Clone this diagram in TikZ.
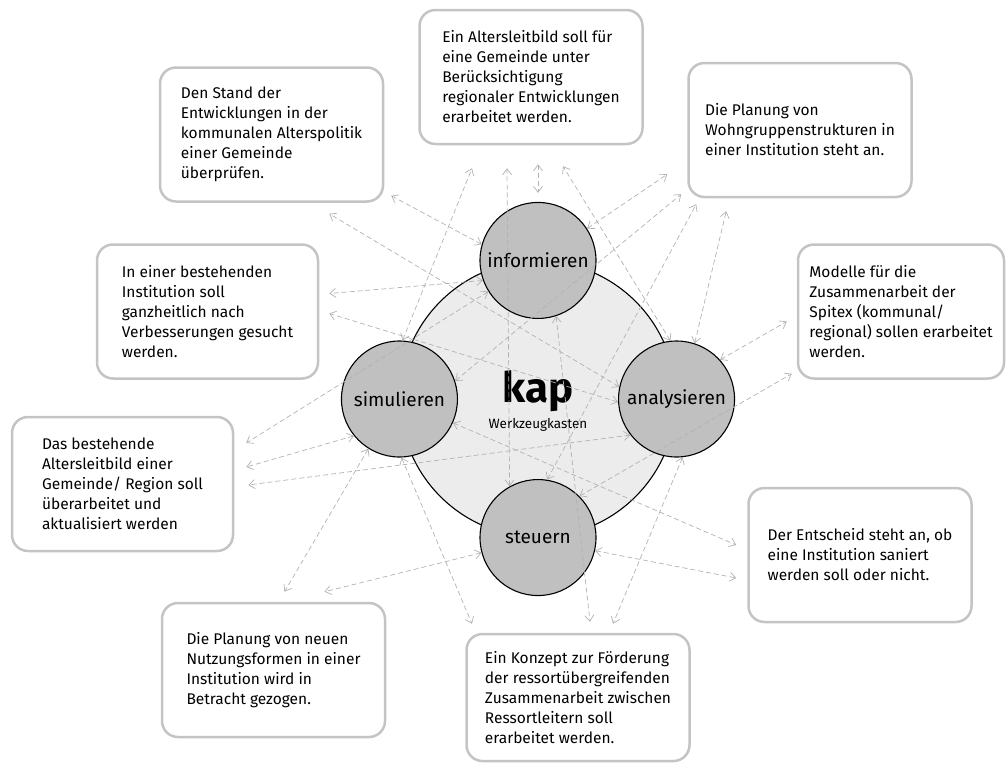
\documentclass[tikz,border=0pt]{standalone}
\usepackage{fontspec}
\setmainfont{Fira Sans}
\usepackage{xcolor}
\definecolor{kapring}{RGB}{236,236,236}
\definecolor{kaptool}{RGB}{192,192,192}
\definecolor{kapframe}{RGB}{196,196,196}
\definecolor{kaplink}{RGB}{178,178,178}
\usepackage{tikz}
\usetikzlibrary{arrows.meta, positioning, calc}

\tikzset{
  task/.style={draw=kapframe, line width=2.5pt, fill=white, rounded corners=16pt,
    minimum width=223pt, minimum height=134pt, align=left,
    font=\fontsize{15.5}{20}\selectfont},
  tool/.style={circle, draw=black, line width=1.1pt, fill=kaptool,
    minimum size=116pt, inner sep=0pt, font=\fontsize{19}{22}\selectfont},
  link/.style={draw=kaplink, line width=0.7pt, dash pattern=on 5pt off 3pt,
    >={Straight Barb[length=6pt,width=9pt]}, <->},
}

\begin{document}
\begin{tikzpicture}[x=1pt, y=-1pt]
  \useasboundingbox (0,0) rectangle (1007,763);

  % Central ring with the four tools
  \node[circle, draw=black, line width=1.1pt, fill=kapring, minimum size=276pt,
        inner sep=0pt] (kreis) at (538,399) {};
  \node[tool] (inf) at (kreis.north) {informieren};
  \node[tool] (sim) at (kreis.west) {simulieren};
  \node[tool] (ana) at (kreis.east) {analysieren};
  \node[tool] (ste) at (kreis.south) {steuern};

  % Logo
  \node[font=\fontsize{42}{42}\selectfont\bfseries] (kap) at (538,391) {kap};
  \node[font=\fontsize{13.5}{15}\selectfont] (werkzeug) at (538,425) {Werkzeugkasten};

  % Situations
  \node[task] (leitbild) at (531,77) {Ein Altersleitbild soll für\\eine Gemeinde unter\\Berücksichtigung\\regionaler Entwicklungen\\erarbeitet werden.};
  \node[task] (stand) at (271.5,134.5) {Den Stand der\\Entwicklungen in der\\kommunalen Alterspolitik\\einer Gemeinde\\überprüfen.};
  \node[task] (wohn) at (800,130) {Die Planung von\\Wohngruppenstrukturen in\\einer Institution steht an.};
  \node[task, minimum width=206pt] (spitex) at (901,311.5) {Modelle für die\\Zusammenarbeit der\\Spitex (kommunal/\\regional) sollen erarbeitet\\werden.};
  \node[task, minimum width=221pt] (institution) at (207.5,311.5) {In einer bestehenden\\Institution soll\\ganzheitlich nach\\Verbesserungen gesucht\\werden.};
  \node[task, minimum width=221pt] (bestehend) at (122.5,484) {Das bestehende\\Altersleitbild einer\\Gemeinde/ Region soll\\überarbeitet und\\aktualisiert werden};
  \node[task] (entscheid) at (860,555) {Der Entscheid steht an, ob\\eine Institution saniert\\werden soll oder nicht.};
  \node[task] (nutzung) at (273.5,670) {Die Planung von neuen\\Nutzungsformen in einer\\Institution wird in\\Betracht gezogen.};
  \node[task, minimum height=127pt] (konzept) at (578,697.5) {Ein Konzept zur Förderung\\der ressortübergreifenden\\Zusammenarbeit zwischen\\Ressortleitern soll\\erarbeitet werden.};

  % Connections to the top boxes
  \draw[link] (sim.87) -- ($(leitbild.south)+(-59,23)$);
  \draw[link] (ste.119) -- ($(leitbild.south)+(-24,23)$);
  \draw[link, shorten <=19pt, shorten >=9pt] (leitbild.south -| inf) -- (inf.north);
  \draw[link] (ana.96) -- ($(leitbild.south)+(32,21)$);
  \draw[link] (inf.164) -- ($(stand.south east)+(7,-7)$);
  \draw[link] (ana.168) -- ($(stand.south east)+(-55,11)$);
  \draw[link] (inf.33) -- ($(wohn.south west)+(-20,-24)$);
  \draw[link] (sim.18) -- ($(wohn.south west)+(-6,-4)$);
  \draw[link] (ste.81) -- ($(wohn.south west)+(9,6)$);
  \draw[link] (ana.72) -- ($(wohn.south west)+(39,13)$);

  % Connections to the side boxes
  \draw[link] (inf.200) -- ($(institution.east)+(10,-18)$);
  \draw[link] (ana.183) -- ($(institution.east)+(10,2)$);
  \draw[link] (inf.212) -- ($(bestehend.east)+(12,-41)$);
  \draw[link] (sim.219) -- ($(bestehend.east)+(12,-17)$);
  \draw[link] (ana.218) -- ($(bestehend.east)+(14,1)$);
  \draw[link] (ana.42) -- ($(spitex.west)+(-10,10)$);
  \draw[link] (ste.45) -- ($(spitex.south west)+(-5,-6)$);

  % Connections to the bottom boxes
  \draw[link] (sim.238) -- ($(nutzung.north)+(11,-10)$);
  \draw[link] (ste.195) -- ($(nutzung.north)+(51,-10)$);
  \draw[link] (sim.272) -- ($(konzept.north)+(-106,-9)$);
  \draw[link] (inf.-72) -- ($(konzept.north)+(12,-11)$);
  \draw[link] (ana.-84) -- ($(konzept.north)+(35,-9)$);
  \draw[link] (sim.-24) -- ($(entscheid.west)+(-11,-10)$);
  \draw[link] (ste.-13) -- ($(entscheid.west)+(-11,23)$);

\end{tikzpicture}
\end{document}
